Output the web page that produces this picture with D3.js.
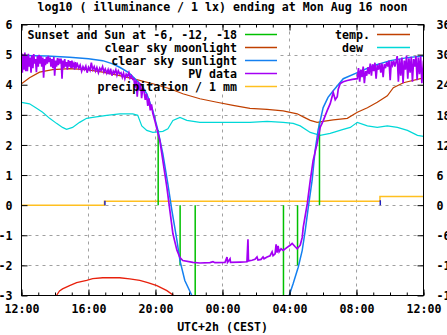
<!DOCTYPE html>
<html><head><meta charset="utf-8">
<script src="https://cdn.jsdelivr.net/npm/d3@7"></script>
<style>
body{margin:0;background:#fff}
svg text{font-family:"DejaVu Sans Mono",monospace;font-weight:bold;font-size:11.6px;fill:#000}
</style></head><body><svg id="c" width="447" height="335"></svg>
<script>
// ---------------- data (times in hours since Sun Aug 15 12:00 CEST) ----------------
const title = "log10 ( illuminance / 1 lx) ending at Mon Aug 16 noon";
const xLabel = "UTC+2h (CEST)";
const xTickHours = [0, 4, 8, 12, 16, 20, 24];
const xTickLabels = ["12:00", "16:00", "20:00", "00:00", "04:00", "08:00", "12:00"];
const yTicks = [6, 5, 4, 3, 2, 1, 0, -1, -2, -3];
const y2Ticks = [36, 30, 24, 18, 12, 6, 0, -6, -12, -18];
const legendLeft = ["Sunset and Sun at -6, -12, -18", "clear sky moonlight", "clear sky sunlight", "PV data", "precipitation / 1 mm"];
const legendRight = ["temp.", "dew\u00a0"];

const sunEventHours = [8.16, 9.47, 10.37, 15.64, 16.48, 17.79];
const sunEventValues = [2.5, -2.0, -3.0, -3.0, -2.0, 2.75];

const moonlight = [[1.9,-3.3],[2.09,-3.0],[2.27,-2.85],[2.45,-2.78],[2.87,-2.67],[3.29,-2.57],[3.89,-2.5],[4.25,-2.44],[4.85,-2.41],[5.86,-2.41],[6.46,-2.45],[7.06,-2.5],[7.54,-2.57],[8.08,-2.67],[8.68,-2.84],[9.04,-2.98],[9.2,-3.3]];

const sunlight = [[0,4.97],[1.5,4.95],[2.87,4.91],[4.0,4.86],[4.85,4.8],[5.4,4.7],[5.86,4.58],[6.4,4.4],[6.88,4.14],[7.2,3.95],[7.48,3.7],[7.84,3.14],[8.14,2.5],[8.44,1.7],[8.74,0.7],[8.98,-0.18],[9.28,-1.17],[9.46,-1.84],[9.75,-2.5],[10.17,-3.0],[10.5,-3.5],
  [15.7,-3.5],[15.98,-3.0],[16.22,-2.6],[16.52,-2.06],[16.76,-1.5],[16.94,-0.84],[17.12,-0.08],[17.35,0.82],[17.53,1.82],[17.71,2.5],[18.01,3.24],[18.3,3.58],[18.61,3.8],[19.21,4.2],[20.05,4.4],[21.0,4.63],[22.02,4.8],[23.04,4.9],[24,4.95]];

const pvData = [
  [0,5.05],[0.05,4.4],[0.1,5.0],[0.15,4.5],[0.2,5.07],[0.25,4.45],
  [0.3,4.95],[0.35,4.45],[0.41,5.03],[0.46,4.6],[0.52,4.9],[0.57,4.4],[0.62,4.98],[0.68,4.55],[0.73,5.02],[0.79,4.7],[0.84,4.85],[0.89,4.42],[0.95,4.95],[1.0,4.6],[1.05,4.99],
  [1.1,4.7],[1.16,4.95],[1.21,4.6],[1.27,4.9],[1.32,4.23],[1.38,4.85],[1.43,4.65],[1.49,4.92],[1.54,4.7],[1.6,4.96],[1.65,4.75],
  [1.71,4.9],[1.76,4.6],[1.82,4.85],[1.87,4.55],[1.93,4.92],[1.98,4.3],[2.04,4.8],[2.09,4.6],[2.15,4.88],[2.2,4.65],[2.26,4.87],
  [2.31,4.7],[2.36,4.87],[2.42,4.2],[2.47,4.8],[2.53,4.55],[2.58,4.85],[2.63,4.6],[2.69,4.75],[2.74,4.5],[2.8,4.82],[2.85,4.6],[2.9,4.78],[2.96,4.55],[3.01,4.8],[3.06,4.62],[3.12,4.7],[3.17,4.5],[3.23,4.75],[3.28,4.6],[3.34,4.68],
  [3.42,4.55],[3.5,4.65],[3.59,4.45],[3.67,4.6],[3.75,4.5],[3.84,4.62],[3.92,4.4],[4.0,4.58],[4.09,4.48],[4.17,4.73],[4.25,4.5],[4.34,4.6],[4.42,4.45],[4.5,4.57],[4.59,4.4],[4.67,4.55],[4.75,4.47],[4.84,4.6],[4.92,4.42],[5.0,4.52],[5.09,4.38],
  [5.17,4.5],[5.24,4.35],[5.32,4.53],[5.4,4.3],[5.48,4.45],[5.55,4.38],[5.63,4.5],[5.7,4.32],[5.78,4.46],[5.86,4.36],
  [5.94,4.4],[6.02,4.25],[6.09,4.38],[6.17,4.2],[6.25,4.35],[6.33,4.28],[6.41,4.4],[6.48,4.22],[6.56,4.3],[6.64,4.18],
  [6.71,4.2],[6.77,3.9],[6.84,4.15],[6.91,3.6],[6.97,4.1],[7.04,3.8],[7.11,4.05],[7.17,3.55],[7.24,3.9],
  [7.31,3.8],[7.39,3.5],[7.46,3.7],[7.54,3.3],[7.61,3.55],[7.69,3.15],[7.76,3.35],[7.84,3.05],
  [7.96,2.81],[8.26,2.14],[8.44,1.48],[8.68,0.59],[8.86,-0.18],[9.04,-0.95],[9.28,-1.5],[9.46,-1.74],[9.63,-1.84],[10.23,-1.9],
  [10.65,-1.92],[11.25,-1.91],[11.43,-1.88],[11.55,-1.91],[12.15,-1.9],[12.27,-1.72],[12.3,-1.9],[12.45,-1.78],[12.48,-1.9],[13.05,-1.89],[13.46,-1.88],[13.52,-1.13],[13.55,-1.85],[13.76,-1.83],[13.94,-1.8],[14.06,-1.72],[14.12,-1.82],[14.3,-1.8],[14.42,-1.72],[14.48,-1.78],[14.66,-1.72],[14.84,-1.68],[14.96,-1.55],[15.02,-1.68],[15.14,-1.62],[15.2,-1.3],[15.26,-1.58],[15.32,-1.35],[15.38,-1.55],[15.5,-1.45],[15.62,-1.5],[15.86,-1.4],[16.04,-1.33],[16.16,-1.27],[16.34,-1.38],[16.46,-1.45],[16.64,-1.33],[16.76,-1.07],[16.82,-0.74],[17.06,0.04],[17.24,0.82],[17.41,1.48],[17.65,2.05],[17.83,2.58],[18.01,2.8],[18.25,3.14],[18.43,3.37],[18.61,3.74],[18.73,3.5],[18.85,3.6],[18.91,3.85],[19.03,4.04],[19.21,4.1],[19.45,4.14],[19.75,4.18],[20.05,4.2],
  [20.12,4.55],[20.19,4.1],[20.26,4.5],[20.33,4.25],[20.4,4.6],[20.47,4.05],[20.54,4.45],[20.61,4.3],[20.68,4.58],
  [20.75,4.35],[20.82,4.7],[20.89,4.3],[20.96,4.68],[21.03,4.45],[21.1,4.73],[21.17,4.2],[21.24,4.65],[21.31,4.5],[21.38,4.72],[21.45,4.4],[21.52,4.7],[21.59,4.25],[21.66,4.68],[21.73,4.55],
  [21.8,4.75],[21.87,4.6],[21.94,4.8],[22.01,4.15],[22.08,4.78],[22.15,4.65],[22.22,4.8],[22.29,4.6],[22.36,4.76],
  [22.43,4.95],[22.5,4.1],[22.57,4.85],[22.64,4.3],[22.71,4.9],[22.78,4.05],[22.85,4.8],[22.92,4.5],[22.99,4.97],[23.06,4.2],[23.13,4.88],[23.2,4.4],[23.27,4.93],[23.34,4.1],[23.41,4.85],[23.48,4.6],[23.55,4.95],[23.62,4.15],[23.69,4.9],[23.76,4.35],[23.83,4.96],[23.9,4.05],[24,4.8]];

const precipHours = [0, 4.95, 21.4, 24];
const precipValues = [0, 0.13, 0.29, 0.29];
const rainHours = [4.98, 21.42];
const rainValues = [0.15, 0.16];

const tempC = [[0,24.2],[0.48,25.4],[1.08,26.5],[1.86,27.0],[2.87,27.2],[3.89,27.0],[4.85,26.5],[5.86,25.8],[6.88,25.0],[7.84,24.2],[8.86,23.2],[9.63,22.2],[10.65,21.2],[11.67,20.5],[12.63,19.9],[13.64,19.3],[14.66,19.1],[15.62,18.8],[16.46,18.2],[16.82,17.6],[17.24,16.9],[17.65,16.5],[18.01,16.7],[18.61,17.0],[19.45,17.3],[20.05,18.5],[20.65,19.4],[21.24,20.5],[21.84,21.8],[22.2,23.4],[22.8,24.4],[23.82,25.2],[24,25.3]];

const dewC = [[0,20.5],[0.48,20.2],[0.9,19.3],[1.26,18.5],[1.68,17.3],[2.09,16.3],[2.45,15.5],[2.69,15.1],[3.05,15.5],[3.47,16.5],[3.89,17.3],[4.25,17.5],[5.09,17.9],[5.86,18.2],[6.64,18.2],[6.94,17.9],[7.18,15.8],[7.48,14.9],[7.84,14.5],[8.44,14.7],[8.74,15.2],[9.04,16.9],[9.46,17.5],[9.87,16.9],[10.65,16.5],[13.64,16.5],[14.66,16.7],[15.62,16.5],[16.22,16.3],[16.64,15.8],[17.24,14.5],[17.83,13.9],[18.43,14.3],[19.21,15.1],[19.63,15.5],[20.05,16.5],[20.65,15.8],[21.24,15.5],[21.84,15.8],[22.44,15.5],[23.04,14.9],[23.64,13.9],[24,13.7]];

// ---------------- drawing ----------------
const colors = {green:"#00c000", moon:"#e8200c", sun:"#1480f0", pv:"#a400f4", precip:"#ffc020", temp:"#c04000", dew:"#00d8d8", rain:"#2020c0", grid:"#a0a0a0"};
const T0 = Date.UTC(2021, 7, 15, 12);
const toDate = h => new Date(T0 + h * 3600e3);
const L = 21.5, R = 423.5, T = 24.5, B = 295.5;

const svg = d3.select("#c");
const x = d3.scaleUtc().domain([toDate(0), toDate(24)]).range([L, R]);
const y = d3.scaleLinear().domain([-3, 6]).range([B, T]);
const y2 = d3.scaleLinear().domain([-18, 36]).range([B, T]);

svg.append("clipPath").attr("id", "clip").append("rect").attr("x", L).attr("y", T).attr("width", R - L).attr("height", B - T);

// grid
const grid = svg.append("g").attr("stroke", colors.grid).attr("stroke-dasharray", "3,4").attr("stroke-width", 1);
yTicks.filter(v => v < 6 && v > -3).forEach(v => grid.append("line").attr("x1", L).attr("x2", R).attr("y1", Math.round(y(v)) + 0.5).attr("y2", Math.round(y(v)) + 0.5));
xTickHours.filter(h => h > 0 && h < 24).forEach(h => grid.append("line").attr("x1", x(toDate(h))).attr("x2", x(toDate(h))).attr("y1", T).attr("y2", B));

// opaque legend boxes
svg.append("rect").attr("x", L + 0.5).attr("y", T + 0.5).attr("width", 256).attr("height", 67).attr("fill", "#fff");
svg.append("rect").attr("x", 330).attr("y", T + 0.5).attr("width", R - 330 - 0.5).attr("height", 29).attr("fill", "#fff");

const plot = svg.append("g").attr("clip-path", "url(#clip)").attr("fill", "none");
const line = d3.line().x(d => x(toDate(d[0]))).y(d => y(d[1]));
const line2 = d3.line().x(d => x(toDate(d[0]))).y(d => y2(d[1]));
const stepLine = d3.line().curve(d3.curveStepAfter).x(d => x(toDate(d[0]))).y(d => y(d[1]));

plot.append("path").attr("d", line2(dewC)).attr("stroke", colors.dew).attr("stroke-width", 1.2);
plot.append("path").attr("d", line2(tempC)).attr("stroke", colors.temp).attr("stroke-width", 1.2);
plot.append("path").attr("d", stepLine(precipHours.map((h, i) => [h, precipValues[i]]))).attr("stroke", colors.precip).attr("stroke-width", 1.5);
rainHours.forEach((h, i) => plot.append("line").attr("x1", x(toDate(h))).attr("x2", x(toDate(h))).attr("y1", y(0)).attr("y2", y(rainValues[i])).attr("stroke", colors.rain).attr("stroke-width", 1.5));
plot.append("path").attr("d", line(moonlight)).attr("stroke", colors.moon).attr("stroke-width", 1.3);
sunEventHours.forEach((h, i) => plot.append("line").attr("x1", x(toDate(h))).attr("x2", x(toDate(h))).attr("y1", y(0)).attr("y2", y(sunEventValues[i])).attr("stroke", colors.green).attr("stroke-width", 1.5));
plot.append("path").attr("d", line(sunlight)).attr("stroke", colors.sun).attr("stroke-width", 1.5);
plot.append("path").attr("d", line(pvData)).attr("stroke", colors.pv).attr("stroke-width", 1.7).attr("stroke-linejoin", "miter");

// legend
const legColors = [colors.green, colors.temp, colors.sun, colors.pv, colors.precip];
legendLeft.forEach((t, i) => {
  const cy = 34.5 + 13 * i;
  svg.append("text").attr("x", 237).attr("y", cy).attr("dy", "0.38em").attr("text-anchor", "end").text(t);
  svg.append("line").attr("x1", 245).attr("x2", 277).attr("y1", cy).attr("y2", cy).attr("stroke", legColors[i]).attr("stroke-width", 1.5);
});
const legColorsR = [colors.temp, colors.dew];
legendRight.forEach((t, i) => {
  const cy = 34.5 + 13 * i;
  svg.append("text").attr("x", 370).attr("y", cy).attr("dy", "0.38em").attr("text-anchor", "end").text(t);
  svg.append("line").attr("x1", 377).attr("x2", 410).attr("y1", cy).attr("y2", cy).attr("stroke", legColorsR[i]).attr("stroke-width", 1.5);
});

// axes
const xb = d3.axisBottom(x).tickValues(xTickHours.map(toDate)).tickSize(-6).tickPadding(9.5).tickFormat((d, i) => xTickLabels[i]);
svg.append("g").attr("transform", `translate(0,${B})`).call(xb);
svg.append("g").attr("transform", `translate(0,${B})`).call(d3.axisBottom(x).ticks(d3.utcHour.every(1)).tickSize(-3).tickFormat(""));
svg.append("g").attr("transform", `translate(0,${T})`).call(d3.axisTop(x).tickValues(xTickHours.map(toDate)).tickSize(-6).tickFormat(""));
svg.append("g").attr("transform", `translate(0,${T})`).call(d3.axisTop(x).ticks(d3.utcHour.every(1)).tickSize(-3).tickFormat(""));
const gy = svg.append("g").attr("transform", `translate(${L},0)`).call(d3.axisLeft(y).tickValues(yTicks).tickSize(-6).tickPadding(9).tickFormat(d => String(d)));
const gy2 = svg.append("g").attr("transform", `translate(${R},0)`).call(d3.axisRight(y2).tickValues(y2Ticks).tickSize(-6).tickPadding(13).tickFormat(d => String(d)));
svg.selectAll(".domain").remove();
svg.selectAll(".tick line").attr("stroke", "#000");
svg.selectAll(".tick text").attr("font-family", null).attr("font-size", null);
gy.selectAll(".tick text").attr("dy", "0.36em");
gy2.selectAll(".tick text").attr("dy", "0.36em");

svg.append("rect").attr("x", L).attr("y", T).attr("width", R - L).attr("height", B - T).attr("fill", "none").attr("stroke", "#000").attr("stroke-width", 1);

svg.append("text").attr("x", (L + R) / 2).attr("y", 11).attr("text-anchor", "middle").text(title);
svg.append("text").attr("x", (L + R) / 2).attr("y", 331).attr("text-anchor", "middle").text(xLabel);
</script></body></html>
